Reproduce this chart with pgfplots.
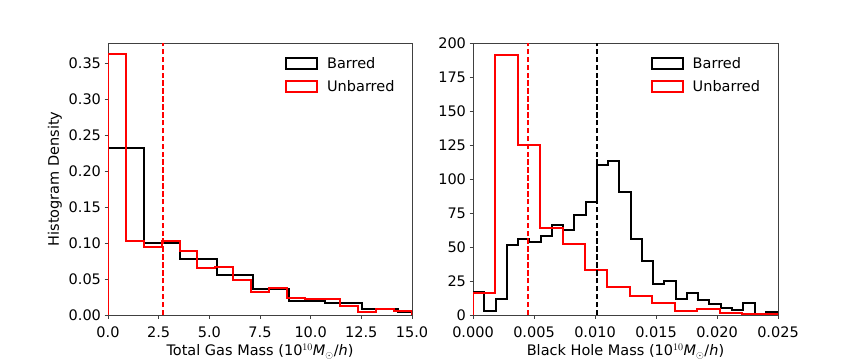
\documentclass[border=0pt]{standalone}
\usepackage{fontspec}
\setmainfont{DejaVu Sans}
\usepackage{pgfplots}
\pgfplotsset{compat=1.18}

\definecolor{mplred}{RGB}{255,0,0}
\newcommand{\fs}{\fontsize{14.5}{17}\selectfont}
\newcommand{\munit}{(10$^{10}$\textit{M}$_{\odot}$/\textit{h})}

\pgfplotsset{
  histax/.style={
    scale only axis, width=304pt, height=272pt,
    anchor=south west,
    axis line style={black!75, line width=0.8pt},
    tick style={black!75, line width=0.8pt},
    tick align=outside, major tick length=3.5pt,
    xtick pos=bottom, ytick pos=left,
    tick label style={font=\fs},
    xticklabel style={inner sep=1pt, yshift=-7pt},
    label style={font=\fs},
    xlabel style={yshift=-2pt},
    /pgf/number format/assume math mode=true,
    legend style={draw=none, fill=none, font=\fs, at={(0.582,0.954)}, anchor=north west,
                  inner sep=0pt, row sep=6pt},
    legend cell align=left,
    legend image code/.code={
      \draw[#1] (0pt,-5.5pt) rectangle (31pt,5.5pt);
      \path[draw=none] (0pt,0pt) -- (39pt,0pt);},
    clip=true,
  },
  hist/.style={const plot, line width=2pt, mark=none},
  med/.style={line width=2pt, dash pattern=on 5.5pt off 2.4pt, forget plot},
}

\begin{document}
\begin{tikzpicture}
\useasboundingbox (0,0) rectangle (864pt,360pt);

% left panel: gas mass
\begin{axis}[histax, at={(108pt,45pt)},
  xmin=0, xmax=15, ymin=0, ymax=0.3778,
  xtick={0,2.5,...,15},
  xticklabel style={/pgf/number format/.cd, fixed, fixed zerofill, precision=1},
  ytick={0,0.05,...,0.35},
  yticklabel style={/pgf/number format/.cd, fixed, fixed zerofill, precision=2},
  xlabel={Total Gas Mass \munit},
  ylabel={Histogram Density},
]
\addplot[hist, black] coordinates {
  (0,0) (0,0.232) (1.788,0.0995) (3.577,0.078) (5.365,0.0558) (7.153,0.0363)
  (8.942,0.020) (10.73,0.0167) (12.52,0.0088) (14.31,0.0047) (16.09,0.0047) (16.09,0)
};
\addlegendentry{Barred}
\addplot[hist, mplred] coordinates {
  (0,0) (0,0.362) (0.882,0.1033) (1.765,0.0949) (2.647,0.1023) (3.529,0.0893)
  (4.412,0.0651) (5.294,0.067) (6.176,0.0493) (7.059,0.0326) (7.941,0.0377)
  (8.824,0.0242) (9.706,0.0228) (10.588,0.0228) (11.471,0.013) (12.353,0.0047)
  (13.235,0.0088) (14.118,0.0056) (15.0,0.0056) (15.0,0)
};
\addlegendentry{Unbarred}
\addplot[med, mplred] coordinates {(2.69,0) (2.69,0.3778)};
\end{axis}

% right panel: black hole mass
\begin{axis}[histax, at={(473pt,45pt)}, width=305pt,
  xmin=0, xmax=0.025, ymin=0, ymax=200,
  xtick={0,0.005,...,0.025},
  scaled x ticks=false,
  xticklabel style={/pgf/number format/.cd, fixed, fixed zerofill, precision=3},
  ytick={0,25,...,200},
  xlabel={Black Hole Mass \munit},
]
\addplot[hist, black] coordinates {
  (0,0) (0,17.2) (0.000923,3.2) (0.001846,12.0) (0.002769,51.8) (0.003692,56.0)
  (0.004615,53.7) (0.005538,58.2) (0.006461,66.5) (0.007384,62.3) (0.008307,73.9)
  (0.009230,83.4) (0.010153,110.4) (0.011076,113.4) (0.011999,90.6) (0.012922,56.0)
  (0.013845,40.0) (0.014768,23.0) (0.015691,25.3) (0.016614,12.0) (0.017537,16.4)
  (0.018460,11.2) (0.019383,8.3) (0.020306,4.8) (0.021229,3.9) (0.022152,9.0)
  (0.023075,0.6) (0.023998,2.4) (0.024921,2.4) (0.024921,0)
};
\addlegendentry{Barred}
\addplot[hist, mplred] coordinates {
  (0,0) (0,16.2) (0.001837,190.9) (0.003674,125.2) (0.005511,64.1) (0.007348,52.5)
  (0.009185,33.4) (0.011022,20.7) (0.012859,14.1) (0.014696,9.0) (0.016533,2.8)
  (0.018370,4.7) (0.020207,1.8) (0.022044,0.8) (0.023881,0.5) (0.025718,0.5) (0.025718,0)
};
\addlegendentry{Unbarred}
\addplot[med, mplred] coordinates {(0.004536,0) (0.004536,200)};
\addplot[med, black] coordinates {(0.01016,0) (0.01016,200)};
\end{axis}
\end{tikzpicture}
\end{document}
